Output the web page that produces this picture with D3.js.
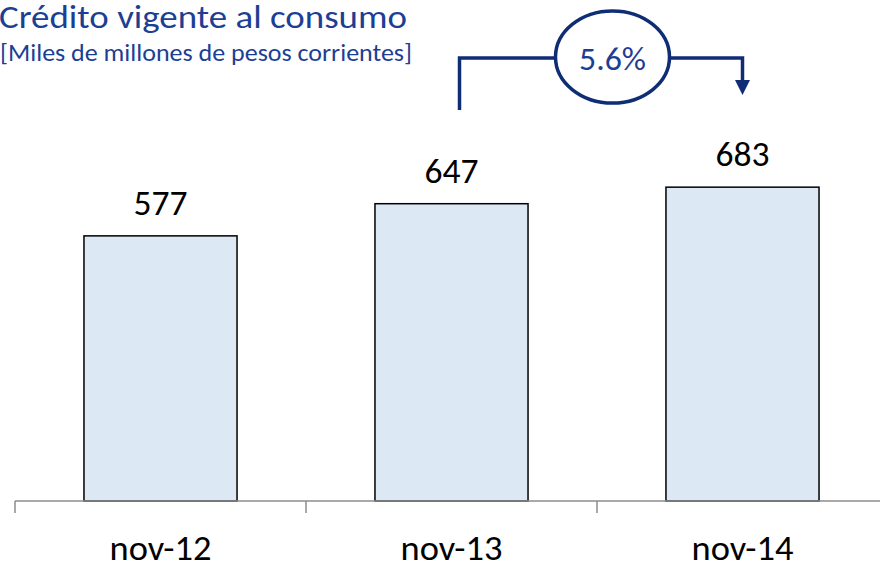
<!DOCTYPE html>
<html><head><meta charset="utf-8">
<script src="https://cdn.jsdelivr.net/npm/d3@7"></script>
<style>body{margin:0;background:#fff}svg{display:block}</style>
</head><body>
<svg id="c" width="880" height="564"></svg>
<script>
const categories = ["nov-12", "nov-13", "nov-14"];
const values = [577, 647, 683];
const titleText = "Crédito vigente al consumo";
const subtitleText = "[Miles de millones de pesos corrientes]";
const growthLabel = "5.6%";

const W = 880, H = 564;
const FONT = "Carlito, Calibri, Lato, sans-serif";
const svg = d3.select("#c");

const x = d3.scaleBand().domain(categories).range([15, 888]).paddingInner(0.474).paddingOuter(0.237);
const y = d3.scaleLinear().domain([0, 800]).range([501, 133.4]);

// set a text's rendered width to the width it has in the reference (Calibri metrics)
function fit(sel, target) {
  sel.attr("textLength", target).attr("lengthAdjust", "spacingAndGlyphs");
}

// title
const t = svg.append("text").attr("x", -1).attr("y", 28).attr("font-family", FONT)
  .attr("font-size", 33).attr("fill", "#1c3f94").text(titleText);
fit(t, 408);
const st = svg.append("text").attr("x", 0).attr("y", 61).attr("font-family", FONT)
  .attr("font-size", 24.5).attr("fill", "#1c3f94").text(subtitleText);
fit(st, 412);

// bars
svg.append("g").selectAll("rect").data(values).join("rect")
  .attr("x", (d, i) => x(categories[i]))
  .attr("y", d => y(d))
  .attr("width", x.bandwidth())
  .attr("height", d => y(0) - y(d))
  .attr("fill", "#dce8f4")
  .attr("stroke", "#000")
  .attr("stroke-width", 1.5);

// value labels
const vl = svg.append("g").selectAll("text").data(values).join("text")
  .attr("x", (d, i) => x(categories[i]) + x.bandwidth() / 2)
  .attr("y", d => y(d) - 21)
  .attr("text-anchor", "middle")
  .attr("font-family", FONT).attr("font-size", 35).attr("fill", "#000")
  .text(d => d);
fit(vl, 54);

// axis
const ax = svg.append("g");
ax.append("line").attr("x1", 15).attr("x2", W).attr("y1", y(0)).attr("y2", y(0))
  .attr("stroke", "#8c8c8c").attr("stroke-width", 1.5);
const bounds = d3.range(categories.length + 1).map(i => x.range()[0] + i * x.step());
ax.selectAll("line.tick").data(bounds).join("line").attr("class", "tick")
  .attr("x1", d => d).attr("x2", d => d).attr("y1", y(0)).attr("y2", y(0) + 12)
  .attr("stroke", "#8c8c8c").attr("stroke-width", 1.5);
const cl = ax.selectAll("text").data(categories).join("text")
  .attr("x", d => x(d) + x.bandwidth() / 2)
  .attr("y", 560)
  .attr("text-anchor", "middle")
  .attr("font-family", FONT).attr("font-size", 34).attr("fill", "#000")
  .text(d => d);
fit(cl, 102);

// growth annotation
const navy = "#0f2d74";
const xl = x(categories[1]) + x.bandwidth() / 2 + 8;
const xr = x(categories[2]) + x.bandwidth() / 2;
const cx = 612.5, cy = 57, rx = 57, ry = 46, ly = 58;
const ann = svg.append("g");
ann.append("path").attr("d", `M${xl},110 V${ly} H${cx - rx}`)
  .attr("fill", "none").attr("stroke", navy).attr("stroke-width", 3.5);
ann.append("path").attr("d", `M${cx + rx},${ly} H${xr} V81`)
  .attr("fill", "none").attr("stroke", navy).attr("stroke-width", 3.5);
ann.append("path").attr("d", `M${xr - 7.5},80 H${xr + 7.5} L${xr},95 Z`).attr("fill", navy);
ann.append("ellipse").attr("cx", cx).attr("cy", cy).attr("rx", rx).attr("ry", ry)
  .attr("fill", "#fff").attr("stroke", navy).attr("stroke-width", 3.5);
const gl = ann.append("text").attr("x", cx).attr("y", 70).attr("text-anchor", "middle")
  .attr("font-family", FONT).attr("font-size", 33).attr("fill", "#1c3f94").text(growthLabel);
fit(gl, 67);
</script>
</body></html>
